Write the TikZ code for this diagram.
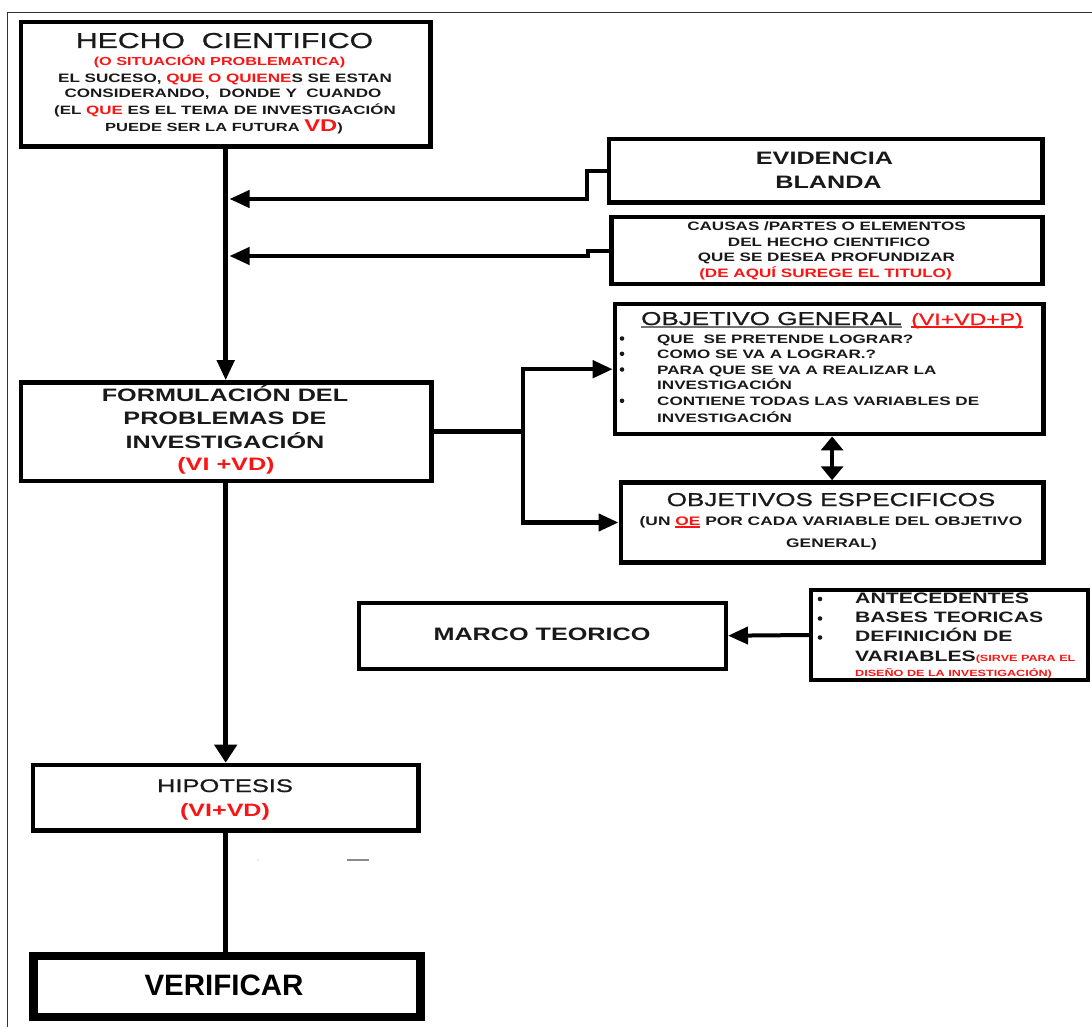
\documentclass[tikz,border=0pt]{standalone}
\usepackage{fontspec}
\setmainfont{Liberation Sans}[FakeStretch=1.4]
\newfontfamily\plainfont{Liberation Sans}
\newfontfamily\medfont{Liberation Sans}[FakeStretch=1.4, FakeBold=1.0]
\usetikzlibrary{arrows.meta}
\newcommand\fs[1]{\fontsize{#1}{#1}\selectfont}
\newcommand\myul[2]{\leavevmode\setbox0\hbox{#2}\rlap{\textcolor{#1}{\rule[-2.8pt]{\wd0}{1.7pt}}}\box0}
\definecolor{rd}{RGB}{250,20,20}
\definecolor{ink}{RGB}{25,25,25}
\begin{document}
\begin{tikzpicture}[x=1pt,y=-1pt,
  box/.style={draw=black, line width=4.5pt, inner sep=0pt},
  txt/.style={inner sep=0pt, anchor=base, text=ink},
  txtl/.style={inner sep=0pt, anchor=base west, text=ink},
  arr/.style={line width=4.5pt, -{Triangle[length=20pt,width=17pt]}},
  arrthin/.style={line width=4pt, -{Triangle[length=20pt,width=17pt]}},
  dbl/.style={line width=4.5pt, {Triangle[length=14pt,width=22pt]}-{Triangle[length=14pt,width=22pt]}},
  bul/.style={fill=ink}
]
\useasboundingbox (0,0) rectangle (1092,1027);
% outer frame
\draw[line width=1.4pt, black!80] (7.3,1027) -- (7.3,12.7) -- (1092,12.7);

% ---------- boxes ----------
\node[box, minimum width=409.5pt, minimum height=124.5pt] (hecho) at (225.7,84.2) {};
\node[box, minimum width=433.5pt, minimum height=63.5pt] (evid) at (825.8,170.8) {};
\node[box, minimum width=431pt, minimum height=67.4pt] (causas) at (827,250.5) {};
\node[box, minimum width=428.5pt, minimum height=130pt] (og) at (829.2,369.2) {};
\node[box, minimum width=422.7pt, minimum height=80pt] (oe) at (832.1,522.5) {};
\node[box, minimum width=410.5pt, minimum height=98.5pt] (form) at (226.2,431.7) {};
\node[box, line width=4pt, minimum width=367pt, minimum height=66pt] (marco) at (542.5,635.7) {};
\node[box, line width=4pt, minimum width=277pt, minimum height=90pt] (bases) at (949.5,635) {};
\node[box, minimum width=385.5pt, minimum height=65.5pt] (hipo) at (225.7,797.7) {};
\node[box, line width=8.5pt, minimum width=387.4pt, minimum height=61pt] (verif) at (227,986.5) {};

% ---------- texts: HECHO ----------
\node[txt] (h1) at (224.5,48) {\medfont\fs{21.6}HECHO\ \ CIENTIFICO};
\node[txt, text=rd] (h2) at (219.5,66) {\bfseries\fs{11.6}(O SITUACIÓN PROBLEMATICA)};
\node[txt] (h3) at (225,83) {\bfseries\fs{12.2}EL SUCESO, \textcolor{rd}{QUE O QUIENE}S SE ESTAN};
\node[txt] (h4) at (223,98) {\bfseries\fs{12.2}CONSIDERANDO,\ \ DONDE Y\ \ CUANDO};
\node[txt] (h5) at (225,114.5) {\bfseries\fs{12.1}(EL \textcolor{rd}{QUE} ES EL TEMA DE INVESTIGACIÓN};
\node[txt] (h6) at (224,132) {\bfseries\fs{11.8}PUEDE SER LA FUTURA \textcolor{rd}{\fs{17}VD}\fs{11.8})};

% ---------- EVIDENCIA ----------
\node[txt] (e1) at (824.5,165) {\bfseries\fs{18}EVIDENCIA};
\node[txt] (e2) at (828.5,188.3) {\bfseries\fs{18}BLANDA};

% ---------- CAUSAS ----------
\node[txt] (c1) at (826.5,230.5) {\bfseries\fs{12.2}CAUSAS /PARTES O ELEMENTOS};
\node[txt] (c2) at (829,246) {\bfseries\fs{12.2}DEL HECHO CIENTIFICO};
\node[txt] (c3) at (826.5,261.5) {\bfseries\fs{12.2}QUE SE DESEA PROFUNDIZAR};
\node[txt, text=rd] (c4) at (825.5,277) {\bfseries\fs{12.2}(DE AQUÍ SUREGE EL TITULO)};

% ---------- OBJETIVO GENERAL ----------
\node[txtl] (oga) at (641,325) {\medfont\fs{18.6}\myul{black!55}{OBJETIVO GENERAL}};
\node[txtl, text=rd] (ogb) at (911,325) {\medfont\fs{16.5}\myul{rd}{(VI+VD+P)}};
\node[txtl] (og1) at (657,343) {\bfseries\fs{12.2}QUE\ \ SE PRETENDE LOGRAR?};
\node[txtl] (og2) at (657,358.3) {\bfseries\fs{12.2}COMO SE VA A LOGRAR.?};
\node[txtl] (og3) at (657,374) {\bfseries\fs{12.2}PARA QUE SE VA A REALIZAR LA};
\node[txtl] (og4) at (657,389.5) {\bfseries\fs{12.2}INVESTIGACIÓN};
\node[txtl] (og5) at (657,405.3) {\bfseries\fs{12.2}CONTIENE TODAS LAS VARIABLES DE};
\node[txtl] (og6) at (657,422.8) {\bfseries\fs{12.2}INVESTIGACIÓN};
\fill[bul] (622,338.5) circle[radius=2.3pt];
\fill[bul] (622,353.8) circle[radius=2.3pt];
\fill[bul] (622,369.5) circle[radius=2.3pt];
\fill[bul] (622,400.8) circle[radius=2.3pt];

% ---------- OBJETIVOS ESPECIFICOS ----------
\node[txt] (oe1) at (831,506) {\medfont\fs{18.6}OBJETIVOS ESPECIFICOS};
\node[txt] (oe2) at (831,525) {\bfseries\fs{12.4}(UN \textcolor{rd}{\myul{rd}{OE}} POR CADA VARIABLE DEL OBJETIVO};
\node[txt] (oe3) at (831.5,547) {\bfseries\fs{12.4}GENERAL)};

% ---------- FORMULACION ----------
\node[txt] (f1) at (225,401) {\bfseries\fs{18}FORMULACIÓN DEL};
\node[txt] (f2) at (225,424.5) {\bfseries\fs{18}PROBLEMAS DE};
\node[txt] (f3) at (225,448) {\bfseries\fs{18}INVESTIGACIÓN};
\node[txt, text=rd] (f4) at (226,470.5) {\bfseries\fs{18}(VI +VD)};

% ---------- MARCO TEORICO ----------
\node[txt] (m1) at (542,640) {\bfseries\fs{18}MARCO TEORICO};

% ---------- BASES ----------
\node[txtl] (b1) at (855,603) {\bfseries\fs{15.2}ANTECEDENTES};
\node[txtl] (b2) at (855,622.5) {\bfseries\fs{15.1}BASES TEORICAS};
\node[txtl] (b3) at (855,641.5) {\bfseries\fs{15.1}DEFINICIÓN DE};
\node[txtl] (b4) at (855,661) {\bfseries\fs{15.1}VARIABLES\textcolor{rd}{\fs{9}(SIRVE PARA EL}};
\node[txtl, text=rd] (b5) at (855,676) {\bfseries\fs{9}DISEÑO DE LA INVESTIGACIÓN)};
\fill[bul] (820,599) circle[radius=2.3pt];
\fill[bul] (820,618.5) circle[radius=2.3pt];
\fill[bul] (820,637.5) circle[radius=2.3pt];

% ---------- HIPOTESIS / VERIFICAR ----------
\node[txt] (p1) at (225,792) {\medfont\fs{18.2}HIPOTESIS};
\node[txt, text=rd] (p2) at (225,816.5) {\bfseries\fs{17.9}(VI+VD)};
\node[txt, text=black] (v1) at (224,995.5) {\plainfont\bfseries\fs{29.5}VERIFICAR};

% ---------- connectors ----------
\coordinate (tip1) at (229.5,199);
\coordinate (tip2) at (229.5,256);
\coordinate (jn) at (523,431.7);
\draw[arr] (hecho.south) -- (hecho.south |- form.north);
\draw[arrthin] (evid.west) -- ++(-20,0) |- (tip1);
\draw[arrthin] (causas.west) -- ++(-21,0) |- (tip2);
\draw[line width=4.5pt] (form.east) -- (jn);
\draw[arr] (jn) |- (og.west);
\draw[arr] (jn) |- (oe.west);
\draw[dbl] (oe.north |- og.south) -- (oe.north);
\draw[arrthin] (bases.west) -- (marco.east);
\draw[arr, -{Triangle[length=18pt,width=22pt]}] (form.south -| hecho.south) -- (hecho.south |- hipo.north);
\draw[line width=4.5pt] (hipo.south) -- (hipo.south |- verif.north);

% stray marks
\draw[black!45, line width=1.2pt] (347,860) -- (369,860);
\fill[black!40] (258,860) circle[radius=0.7pt];
\end{tikzpicture}
\end{document}
